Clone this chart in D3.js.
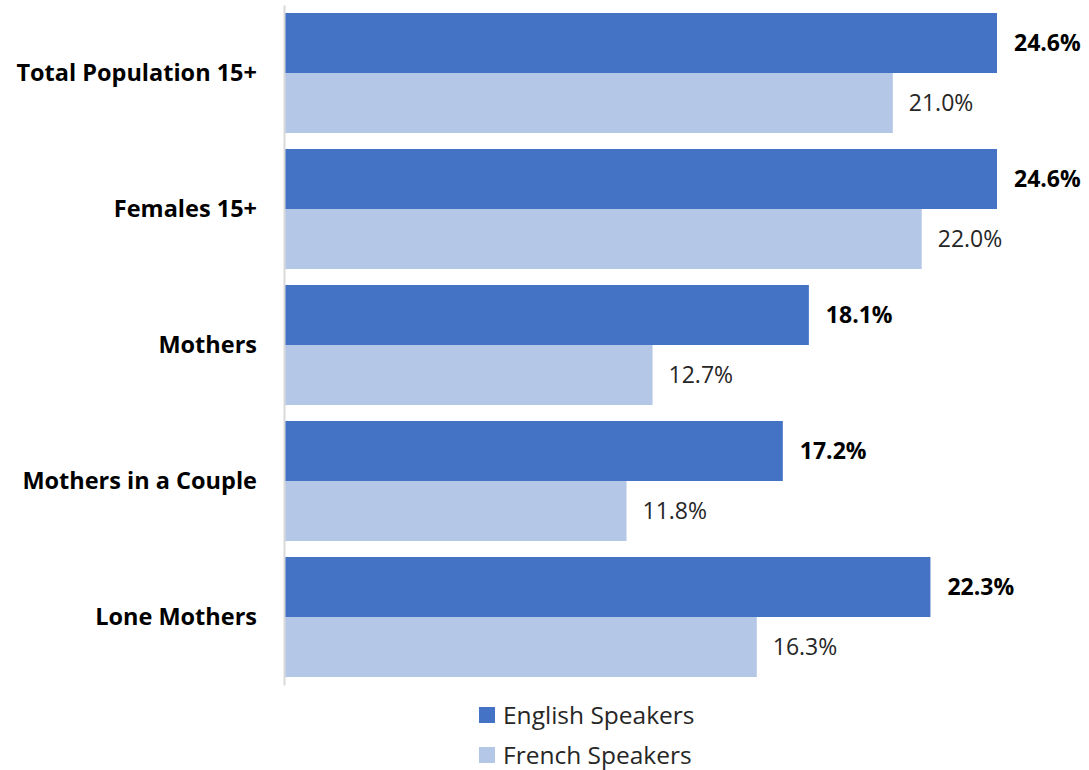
<!DOCTYPE html>
<html>
<head>
<meta charset="utf-8">
<script src="https://cdn.jsdelivr.net/npm/d3@7"></script>
<style>
  body { margin: 0; background: #fff; }
  text { font-family: "Open Sans", "Noto Sans", sans-serif; fill: #000; }
</style>
</head>
<body>
<div id="chart"></div>
<script>
// data
var categories = ["Total Population 15+", "Females 15+", "Mothers", "Mothers in a Couple", "Lone Mothers"];
var seriesNames = ["English Speakers", "French Speakers"];
var english = [24.6, 24.6, 18.1, 17.2, 22.3];
var french = [21.0, 22.0, 12.7, 11.8, 16.3];

var svgWidth = 1089;
var svgHeight = 770;
var colors = ["#4472C4", "#B4C7E7"];

var svg = d3.select("#chart")
    .append("svg")
    .attr("width", svgWidth)
    .attr("height", svgHeight);

var x0 = 285;
var xScale = d3.scaleLinear()
    .domain([0, 24.6])
    .range([x0, 997]);

var yScale = d3.scaleBand()
    .domain(categories)
    .range([5, 685])
    .paddingInner(16 / 136)
    .paddingOuter(8 / 136);

var subScale = d3.scaleBand()
    .domain(seriesNames)
    .range([0, yScale.bandwidth()]);

var rows = categories.map(function (c, i) {
    return { cat: c, vals: [english[i], french[i]] };
});

// bars
var groups = svg.selectAll("g.grp")
    .data(rows)
    .enter()
    .append("g")
    .attr("class", "grp")
    .attr("transform", d => `translate(0, ${yScale(d.cat)})`);

groups.selectAll("rect")
    .data(d => d.vals.map((v, j) => ({ v: v, s: seriesNames[j], j: j })))
    .enter()
    .append("rect")
    .attr("x", xScale(0))
    .attr("y", d => subScale(d.s))
    .attr("width", d => xScale(d.v) - xScale(0))
    .attr("height", subScale.bandwidth())
    .attr("fill", d => colors[d.j]);

groups.selectAll("text.val")
    .data(d => d.vals.map((v, j) => ({ v: v, s: seriesNames[j], j: j })))
    .enter()
    .append("text")
    .attr("class", "val")
    .attr("x", d => xScale(d.v) + (d.j === 0 ? 17 : 16))
    .attr("y", d => subScale(d.s) + subScale.bandwidth() / 2)
    .attr("dy", "0.35em")
    .style("font-size", "23px")
    .style("font-weight", d => d.j === 0 ? "bold" : "normal")
    .style("fill", d => d.j === 0 ? "#000" : "#262626")
    .text(d => d.v.toFixed(1) + "%");

// category axis
var leftAxis = d3.axisLeft(yScale).tickSize(0).tickPadding(27);
var axisG = svg.append("g")
    .attr("transform", `translate(${x0 - 1}, 0)`)
    .call(leftAxis);
axisG.select(".domain")
    .attr("stroke", "#d9d9d9")
    .attr("stroke-width", 2);
axisG.selectAll(".tick text")
    .style("font-family", "'Open Sans', 'Noto Sans', sans-serif")
    .style("font-size", "23.5px")
    .style("font-weight", "bold")
    .style("fill", "#000");

// legend
var legend = svg.selectAll("g.legend")
    .data(seriesNames)
    .enter()
    .append("g")
    .attr("class", "legend")
    .attr("transform", (d, i) => `translate(479, ${707 + i * 40})`);

legend.append("rect")
    .attr("width", 16)
    .attr("height", 16)
    .attr("fill", (d, i) => colors[i]);

legend.append("text")
    .attr("x", 24)
    .attr("y", 8)
    .attr("dy", "0.35em")
    .style("font-size", "24.5px")
    .style("fill", "#262626")
    .text(d => d);
</script>
</body>
</html>
